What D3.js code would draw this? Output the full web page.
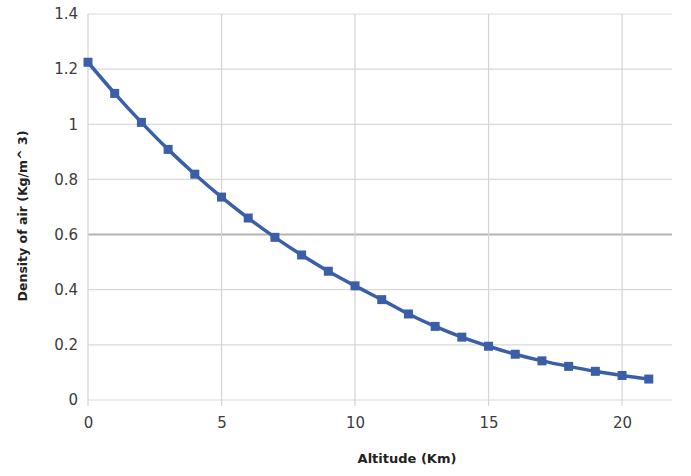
<!DOCTYPE html>
<html><head><meta charset="utf-8">
<script src="https://cdn.jsdelivr.net/npm/d3@7"></script>
<style>body{margin:0;background:#fff;}text{font-family:"DejaVu Sans",sans-serif;}</style>
</head><body>
<svg id="c" width="691" height="476"></svg>
<script>
const altitude = [0,1,2,3,4,5,6,7,8,9,10,11,12,13,14,15,16,17,18,19,20,21];
const density = [1.225,1.112,1.007,0.909,0.819,0.736,0.660,0.590,0.526,0.467,0.414,0.364,0.312,0.267,0.228,0.195,0.166,0.142,0.122,0.104,0.089,0.076];
const xTicks = [0,5,10,15,20];
const yTicks = [0,0.2,0.4,0.6,0.8,1,1.2,1.4];
const xTitle = "Altitude (Km)";
const yTitle = "Density of air (Kg/m^ 3)";

const svg = d3.select("#c");
const L=88, R=672, T=14, B=400;
const x = d3.scaleLinear().domain([0,21.87]).range([L,R]);
const y = d3.scaleLinear().domain([0,1.4]).range([B,T]);

// gridlines
svg.append("g").selectAll("line").data(yTicks).join("line")
  .attr("x1",L).attr("x2",R).attr("y1",d=>y(d)).attr("y2",d=>y(d))
  .attr("stroke",d=>d===0.6?"#b4b4b4":"#d9d9d9").attr("stroke-width",d=>d===0.6?2:1.2);
svg.append("g").selectAll("line").data(xTicks).join("line")
  .attr("y1",T).attr("y2",B+6).attr("x1",d=>x(d)).attr("x2",d=>x(d))
  .attr("stroke","#d4d4d4").attr("stroke-width",1.2);

// axes labels via d3 axes
const ya = svg.append("g").attr("transform",`translate(${L-10},0)`)
  .call(d3.axisLeft(y).tickValues(yTicks).tickSize(0).tickPadding(0).tickFormat(d3.format("~g")));
const xa = svg.append("g").attr("transform",`translate(0,${B+10})`)
  .call(d3.axisBottom(x).tickValues(xTicks).tickSize(0).tickPadding(7).tickFormat(d3.format("~g")));
[ya,xa].forEach(a=>{a.select(".domain").remove();a.selectAll("text").attr("fill","#3c3c3c").style("font-size","15px").style("font-family","'DejaVu Sans', sans-serif");});

// line
svg.append("path").datum(altitude.map((a,i)=>[a,density[i]]))
  .attr("fill","none").attr("stroke","#3a5fa6").attr("stroke-width",3.5)
  .attr("d",d3.line().x(d=>x(d[0])).y(d=>y(d[1])).curve(d3.curveCatmullRom));
svg.append("g").selectAll("rect").data(altitude).join("rect")
  .attr("x",(d)=>x(d)-4.5).attr("y",(d,i)=>y(density[i])-4.5).attr("width",9).attr("height",9)
  .attr("fill","#3a5fa6");

// titles
svg.append("text").attr("x",407).attr("y",463).attr("text-anchor","middle")
  .style("font-size","13px").style("font-weight","bold").attr("fill","#222").text(xTitle);
svg.append("text").attr("transform","translate(27,216) rotate(-90)").attr("text-anchor","middle")
  .style("font-size","12.5px").style("font-weight","bold").attr("fill","#222").text(yTitle);
</script>
</body></html>
